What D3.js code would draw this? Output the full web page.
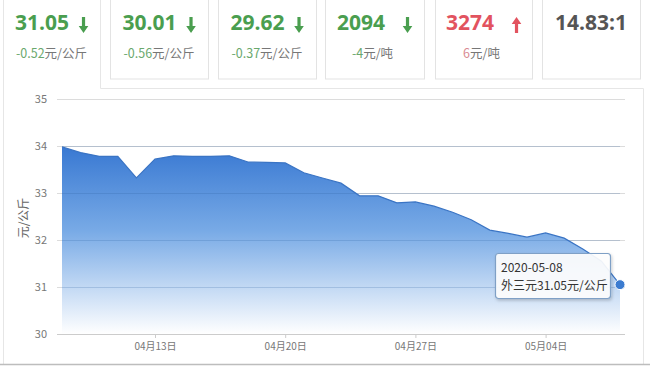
<!DOCTYPE html>
<html><head><meta charset="utf-8">
<script src="https://cdn.jsdelivr.net/npm/d3@7"></script>
<style>
html,body{margin:0;padding:0;background:#fff;}
svg{display:block;font-family:"Noto Sans CJK SC","Noto Sans",sans-serif;}
</style></head>
<body>
<svg id="c" width="650" height="366"></svg>
<script>
// ---- data ----
const dates = ["2020-04-08","2020-04-09","2020-04-10","2020-04-11","2020-04-12","2020-04-13","2020-04-14","2020-04-15","2020-04-16","2020-04-17","2020-04-18","2020-04-19","2020-04-20","2020-04-21","2020-04-22","2020-04-23","2020-04-24","2020-04-25","2020-04-26","2020-04-27","2020-04-28","2020-04-29","2020-04-30","2020-05-01","2020-05-02","2020-05-03","2020-05-04","2020-05-05","2020-05-06","2020-05-07","2020-05-08"];
const prices = [33.98,33.86,33.78,33.78,33.32,33.72,33.79,33.78,33.78,33.79,33.66,33.65,33.64,33.43,33.32,33.21,32.94,32.94,32.79,32.81,32.72,32.59,32.43,32.21,32.14,32.06,32.15,32.04,31.81,31.55,31.05];
const yTicks = [30,31,32,33,34,35];
const xTickDates = ["2020-04-13","2020-04-20","2020-04-27","2020-05-04"];
const cardMain = ["31.05","30.01","29.62","2094","3274","14.83:1"];
const cardDelta = ["-0.52","-0.56","-0.37","-4","6",""];
const cardUnit = ["元/公斤","元/公斤","元/公斤","元/吨","元/吨",""];
const cardDir = ["down","down","down","down","up","none"];
const yTitle = "元/公斤";
const tipName = "外三元";
const tipUnit = "元/公斤";

// ---- drawing ----
const svg = d3.select("#c");
const parse = d3.timeParse("%Y-%m-%d");
const data = dates.map((d,i)=>({date:parse(d), v:prices[i]}));
const GREEN="#4a9e4f", RED="#e2535f", GREY="#555";

// cards
const cardX = [3,110,218,325,435,542];
const cardW = [97,98,98,99,97,98];
const defs = svg.append("defs");
const f = defs.append("filter").attr("id","sh").attr("x","-20%").attr("y","-20%").attr("width","140%").attr("height","150%");
f.append("feDropShadow").attr("dx",1).attr("dy",1.5).attr("stdDeviation",1.5).attr("flood-color","#000").attr("flood-opacity",0.22);

// chart panel border with tab for first card
svg.append("path")
  .attr("d","M3.5,-2 V364 M100.5,-2 V88.5 H643.5 V364")
  .attr("fill","none").attr("stroke","#e6e6e6").attr("stroke-width",1);
svg.append("line").attr("x1",0).attr("x2",650).attr("y1",364.5).attr("y2",364.5)
  .attr("stroke","#bdbdbd").attr("stroke-width",1.5);

cardX.forEach((x,i)=>{
  if(i>0){
    svg.append("rect").attr("x",x+0.5).attr("y",-3).attr("width",cardW[i]).attr("height",82)
      .attr("fill","#fff").attr("stroke","#e3e3e3");
  }
  const col = cardDir[i]==="down"?GREEN:(cardDir[i]==="up"?RED:GREY);
  const cx = x + cardW[i]/2;
  const g = svg.append("g");
  const hasArrow = cardDir[i]!=="none";
  const t = g.append("text").attr("y",30).attr("font-size",21).attr("font-weight","bold")
    .attr("fill",col).attr("font-family","'Open Sans','Noto Sans',sans-serif").text(cardMain[i]);
  const w = t.node().getComputedTextLength();
  const gap = cardMain[i].length===4?18:10;
  const total = w + (hasArrow? gap+9:0);
  const sx = cx - total/2 - (hasArrow?0:0);
  t.attr("x",sx);
  if(hasArrow){
    const ax = sx + w + gap + 4.5;
    if(cardDir[i]==="down"){
      g.append("path").attr("d",`M${ax-1.6},17 H${ax+1.6} V26 H${ax+4.8} L${ax},33 L${ax-4.8},26 H${ax-1.6} Z`).attr("fill",col);
    } else {
      g.append("path").attr("d",`M${ax-1.6},33 H${ax+1.6} V24 H${ax+4.8} L${ax},17 L${ax-4.8},24 H${ax-1.6} Z`).attr("fill",col);
    }
  }
  if(cardDelta[i]!==""){
    const st = g.append("text").attr("x",cx+ (i>=3?-2:0)).attr("y",58).attr("text-anchor","middle").attr("font-size",12.5).attr("fill","#777");
    st.append("tspan").attr("fill", cardDir[i]==="up"?"#d98a92":"#6aa86d").text(cardDelta[i]);
    st.append("tspan").text(cardUnit[i]);
  }
});

// scales
const x = d3.scaleTime().domain([parse(dates[0]), parse(dates[dates.length-1])]).range([62,620]);
const y = d3.scaleLinear().domain([30,35]).range([334,99]);

// gridlines
svg.append("g").selectAll("line").data(yTicks).join("line")
  .attr("x1",57).attr("x2",625).attr("y1",d=>Math.round(y(d))+0.5).attr("y2",d=>Math.round(y(d))+0.5)
  .attr("stroke",d=>d===30?"#cccccc":"#dcdcdc").attr("stroke-width",1);

// y labels
svg.append("g").selectAll("text").data(yTicks).join("text")
  .attr("x",47).attr("y",d=>y(d)+4).attr("text-anchor","end").attr("font-size",11).attr("fill","#777").text(d=>d);

// y title
svg.append("text").attr("transform","translate(28,218) rotate(-90)").attr("text-anchor","middle")
  .attr("font-size",12).attr("fill","#666").text(yTitle);

// gradient
const grad = defs.append("linearGradient").attr("id","ag").attr("gradientUnits","userSpaceOnUse")
  .attr("x1",0).attr("x2",0).attr("y1",y(34)).attr("y2",y(30));
grad.append("stop").attr("offset","0%").attr("stop-color","#3878d2");
grad.append("stop").attr("offset","45%").attr("stop-color","#78aae6");
grad.append("stop").attr("offset","100%").attr("stop-color","#ffffff");

const area = d3.area().x(d=>x(d.date)).y0(y(30)).y1(d=>y(d.v));
svg.append("path").datum(data).attr("d",area).attr("fill","url(#ag)");

// gridlines over area (faint, as in reference)
svg.append("g").selectAll("line").data(yTicks.filter(d=>d>30 && d<35)).join("line")
  .attr("x1",62).attr("x2",620).attr("y1",d=>Math.round(y(d))+0.5).attr("y2",d=>Math.round(y(d))+0.5)
  .attr("stroke","#2e5f9e").attr("stroke-opacity",0.22);

const line = d3.line().x(d=>x(d.date)).y(d=>y(d.v));
svg.append("path").datum(data).attr("d",line).attr("fill","none").attr("stroke","#3a74c4").attr("stroke-width",1.2);

// x axis
const xa = d3.axisBottom(x).tickValues(xTickDates.map(parse)).tickFormat(d3.timeFormat("%m月%d日")).tickSize(4).tickSizeOuter(0);
const gx = svg.append("g").attr("transform",`translate(0,${y(30)})`).call(xa);
gx.select(".domain").remove();
gx.selectAll(".tick line").attr("stroke","#ccc");
gx.selectAll(".tick text").attr("font-size",10).attr("fill","#777").attr("dy","0.9em")
  .attr("font-family","'Noto Sans CJK SC',sans-serif");

// last point marker
const last = data[data.length-1];
svg.append("circle").attr("cx",x(last.date)).attr("cy",y(last.v)).attr("r",5)
  .attr("fill","#3b7bd0").attr("stroke","#fff").attr("stroke-width",1);

// tooltip
const tg = svg.append("g").attr("transform","translate(495,253)");
tg.append("rect").attr("x",0.5).attr("y",0.5).attr("width",115).attr("height",45).attr("rx",3)
  .attr("fill","#fff").attr("fill-opacity",0.9).attr("stroke","#7fa0c6").attr("stroke-width",1.2)
  .attr("filter","url(#sh)");
tg.append("text").attr("x",6).attr("y",19).attr("font-size",12).attr("fill","#333")
  .text(d3.timeFormat("%Y-%m-%d")(last.date));
tg.append("text").attr("x",6).attr("y",37).attr("font-size",12).attr("fill","#333")
  .text(tipName + last.v.toFixed(2) + tipUnit);
</script>
</body></html>
